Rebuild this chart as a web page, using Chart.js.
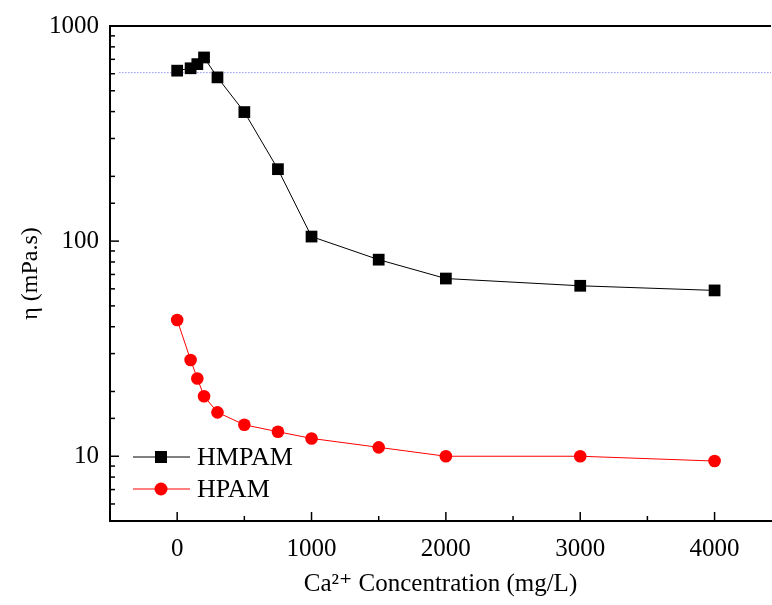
<!DOCTYPE html>
<html>
<head>
<meta charset="utf-8">
<script src="https://cdn.jsdelivr.net/npm/chart.js@4/dist/chart.umd.min.js"></script>
<style>
  html, body { margin: 0; padding: 0; background: #fff; }
  #wrap { width: 772px; height: 605px; }
</style>
</head>
<body>
<div id="wrap"><canvas id="viscChart"></canvas></div>
<script>
// Ca2+ concentration (mg/L)
const concentration = [0, 100, 150, 200, 300, 500, 750, 1000, 1500, 2000, 3000, 4000]
// viscosity (mPa.s)
const hmpam = [620, 636, 665, 714, 577, 398, 216, 105, 82, 67, 62, 59]
const hpam = [43, 28, 23, 19, 16, 14, 13, 12.1, 11, 10, 10, 9.5]
const refLevel = 607
const refRange = [-430, 4420]
const xTicks = [-500, 0, 500, 1000, 1500, 2000, 2500, 3000, 3500, 4000]
const yLabels = [10, 100, 1000]

const serif = "'Liberation Serif', 'DejaVu Serif', serif"

const toPoints = (xs, ys) => xs.map((x, i) => ({ x: x, y: ys[i] }))

// inward ticks, frame and in-plot legend
const frameAndLegend = {
    id: "frameAndLegend",
    afterDraw(chart) {
        const ctx = chart.ctx
        const a = chart.chartArea
        const xs = chart.scales.x
        const ys = chart.scales.y
        ctx.save()
        ctx.strokeStyle = "#000"
        ctx.lineWidth = 2
        ctx.beginPath()
        ctx.moveTo(a.left, a.top)
        ctx.lineTo(a.right, a.top)
        ctx.stroke()

        ctx.lineWidth = 1.5
        xs.ticks.forEach(t => {
            const px = xs.getPixelForValue(t.value)
            const len = t.value % 1000 === 0 ? 9 : 5
            ctx.beginPath()
            ctx.moveTo(px, a.bottom)
            ctx.lineTo(px, a.bottom - len)
            ctx.stroke()
        })
        ys.ticks.forEach(t => {
            const py = ys.getPixelForValue(t.value)
            const len = yLabels.includes(t.value) ? 9 : 5
            ctx.beginPath()
            ctx.moveTo(a.left, py)
            ctx.lineTo(a.left + len, py)
            ctx.stroke()
        })

        // legend
        const rows = [0, 1]
        rows.forEach(i => {
            const ds = chart.data.datasets[i]
            const y = 457 + i * 32
            ctx.strokeStyle = ds.borderColor
            ctx.lineWidth = 1
            ctx.beginPath()
            ctx.moveTo(133, y)
            ctx.lineTo(190, y)
            ctx.stroke()
            ctx.fillStyle = ds.backgroundColor
            if (ds.pointStyle === "rect") {
                ctx.fillRect(161 - 6, y - 6, 12, 12)
            } else {
                ctx.beginPath()
                ctx.arc(161, y, 6.5, 0, Math.PI * 2)
                ctx.fill()
            }
            ctx.fillStyle = "#000"
            ctx.font = "26px " + serif
            ctx.textBaseline = "middle"
            ctx.textAlign = "left"
            ctx.fillText(ds.label, 197, y + 1)
        })
        ctx.restore()
    }
}

new Chart(document.getElementById("viscChart"), {
    type: "line",
    data: {
        datasets: [
            {
                label: "HMPAM",
                data: toPoints(concentration, hmpam),
                borderColor: "#000",
                backgroundColor: "#000",
                borderWidth: 1,
                pointStyle: "rect",
                pointRadius: 8.3,
                pointBorderWidth: 0,
                tension: 0
            },
            {
                label: "HPAM",
                data: toPoints(concentration, hpam),
                borderColor: "#ff0000",
                backgroundColor: "#ff0000",
                borderWidth: 1,
                pointStyle: "circle",
                pointRadius: 6.3,
                pointBorderWidth: 0,
                tension: 0
            },
            {
                label: "ref",
                data: toPoints(refRange, [refLevel, refLevel]),
                borderColor: "rgba(70, 70, 230, 0.9)",
                borderWidth: 1,
                borderDash: [1, 2],
                pointRadius: 0
            }
        ]
    },
    options: {
        responsive: true,
        maintainAspectRatio: false,
        animation: false,
        layout: { autoPadding: false, padding: { top: 24, right: 1, left: 0, bottom: 0 } },
        plugins: {
            legend: { display: false },
            tooltip: { enabled: false }
        },
        scales: {
            x: {
                type: "linear",
                min: -500,
                max: 4420,
                afterBuildTicks: s => { s.ticks = xTicks.map(v => ({ value: v })) },
                afterFit: s => { s.height = 84 },
                grid: { display: false, drawTicks: false },
                border: { display: true, color: "#000", width: 2 },
                ticks: {
                    padding: 13,
                    color: "#000",
                    font: { family: serif, size: 25 },
                    callback: v => (v >= 0 && v % 1000 === 0) ? String(v) : ""
                },
                title: {
                    display: true,
                    text: "Ca²⁺ Concentration (mg/L)",
                    color: "#000",
                    font: { family: serif, size: 25 },
                    padding: { top: 0, bottom: 6 }
                }
            },
            y: {
                type: "logarithmic",
                min: 5,
                max: 1000,
                afterFit: s => { s.width = 110 },
                grid: { display: false, drawTicks: false },
                border: { display: true, color: "#000", width: 2 },
                ticks: {
                    padding: 11,
                    color: "#000",
                    autoSkip: false,
                    font: { family: serif, size: 25 },
                    callback: v => yLabels.includes(v) ? String(v) : ""
                },
                title: {
                    display: true,
                    text: "η (mPa.s)",
                    color: "#000",
                    font: { family: serif, size: 24 },
                    padding: { top: 16, bottom: 0 }
                }
            }
        }
    },
    plugins: [frameAndLegend]
})
</script>
</body>
</html>
